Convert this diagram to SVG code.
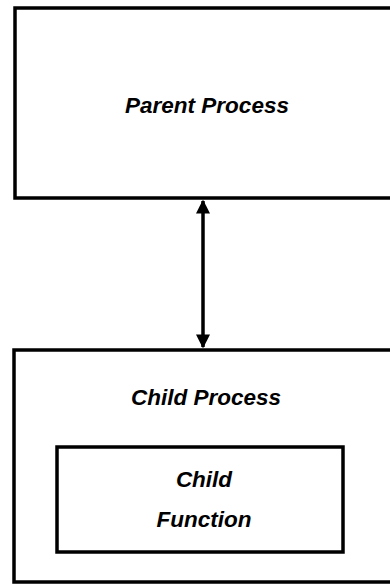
<svg xmlns="http://www.w3.org/2000/svg" width="390" height="584" viewBox="0 0 390 584">
  <style>
    .box { fill: #fff; stroke: #000; stroke-width: 3.5; }
    .lbl { font-family: "Liberation Sans", Arial, sans-serif; font-weight: bold; font-style: italic; font-size: 22.5px; fill: #000; text-anchor: middle; }
    .link { stroke: #000; stroke-width: 3.5; fill: none; }
  </style>
  <defs>
    <marker id="head" viewBox="0 0 10 10" refX="9" refY="5" markerWidth="4" markerHeight="4" orient="auto-start-reverse" markerUnits="strokeWidth">
      <path d="M0,0 L10,5 L0,10 Z" fill="#000"/>
    </marker>
  </defs>
  <rect width="390" height="584" fill="#fff"/>

  <g id="parent-process">
    <rect class="box" x="15" y="8" width="390" height="190"/>
    <text class="lbl" x="207" y="113">Parent Process</text>
  </g>

  <g id="child-process">
    <rect class="box" x="14" y="350" width="390" height="232"/>
    <text class="lbl" x="206" y="405">Child Process</text>
  </g>

  <g id="child-function">
    <rect class="box" x="57" y="447" width="286" height="105"/>
    <text class="lbl" x="204" y="487">Child</text>
    <text class="lbl" x="204" y="527">Function</text>
  </g>

  <g id="connectors">
    <line class="link" x1="203" y1="201" x2="203" y2="347" marker-start="url(#head)" marker-end="url(#head)"/>
  </g>
</svg>
